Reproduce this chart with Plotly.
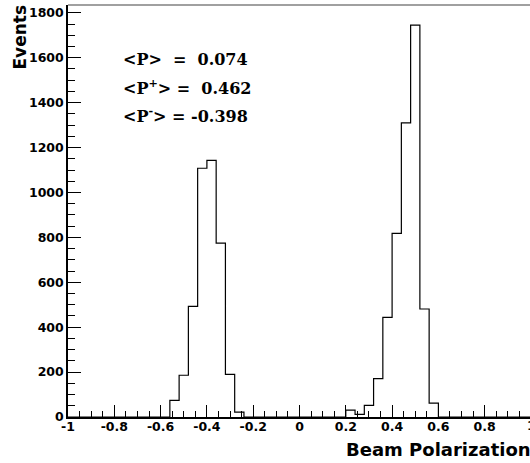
import numpy as np
import plotly.graph_objects as go

# Histogram definition: 50 bins on [-1, 1]
x_lo, x_hi, n_bins = -1.0, 1.0, 50
counts = [0] * n_bins
left_peak_start = 11
left_peak = [74, 186, 493, 1108, 1143, 774, 190, 22]
right_peak_start = 30
right_peak = [31, 12, 52, 171, 444, 818, 1310, 1745, 481, 62]
for i, v in enumerate(left_peak):
    counts[left_peak_start + i] = v
for i, v in enumerate(right_peak):
    counts[right_peak_start + i] = v

edges = np.linspace(x_lo, x_hi, n_bins + 1)
x_tick_vals = [-1, -0.8, -0.6, -0.4, -0.2, 0, 0.2, 0.4, 0.6, 0.8]
x_tick_text = ["-1", "-0.8", "-0.6", "-0.4", "-0.2", "0", "0.2", "0.4", "0.6", "0.8"]
y_tick_vals = [0, 200, 400, 600, 800, 1000, 1200, 1400, 1600, 1800]

stats_lines = [
    "&lt;P&gt;\u00a0\u00a0=\u00a0\u00a00.074",
    "&lt;P<sup>+</sup>&gt;\u00a0=\u00a0\u00a00.462",
    "&lt;P<sup>-</sup>&gt;\u00a0=\u00a0-0.398",
]

W, H = 530, 463
ML, MR, MT, MB = 68, 0, 5, 46
PW, PH = W - ML - MR, H - MT - MB
px_per_unit = 231.5
x_range = [x_lo, x_lo + PW / px_per_unit]
y_range = [0, 1835]

fig = go.Figure()
fig.add_trace(go.Scatter(
    x=edges,
    y=list(counts) + [counts[-1]],
    mode="lines",
    line=dict(shape="hv", color="black", width=1.2),
    hoverinfo="skip",
    showlegend=False,
))

tick_font = dict(family="DejaVu Sans", size=12.5, color="black", weight="bold")

fig.update_layout(
    width=W, height=H,
    margin=dict(l=ML, r=MR, t=MT, b=MB, pad=0),
    paper_bgcolor="white", plot_bgcolor="white",
    showlegend=False,
    xaxis=dict(
        range=x_range, showgrid=False, zeroline=False,
        showline=True, linecolor="black", linewidth=1.5,
        ticks="inside", ticklen=12, tickwidth=1, tickcolor="black",
        tickvals=x_tick_vals, ticktext=x_tick_text,
        tickfont=tick_font, ticklabelstandoff=-3,
        minor=dict(dtick=0.05, tick0=0, ticks="inside", ticklen=6, tickwidth=1, tickcolor="black"),
    ),
    yaxis=dict(
        range=y_range, showgrid=False, zeroline=False,
        showline=True, linecolor="black", linewidth=1.5,
        ticks="inside", ticklen=13, tickwidth=1, tickcolor="black",
        tickvals=y_tick_vals,
        tickfont=tick_font,
        minor=dict(dtick=50, tick0=0, ticks="inside", ticklen=7, tickwidth=1, tickcolor="black"),
    ),
    shapes=[dict(type="line", xref="paper", yref="paper", x0=0, x1=1, y0=1, y1=1,
                 line=dict(color="#808080", width=1.5))],
)

annotations = []
for k, line in enumerate(stats_lines):
    annotations.append(dict(
        xref="paper", yref="paper", x=(121 - ML) / PW,
        y=1 - ((71 + 28.5 * k) - MT) / PH,
        xanchor="left", yanchor="bottom",
        text=line, showarrow=False,
        font=dict(family="DejaVu Serif", size=16, color="black", weight="bold"),
    ))
annotations.append(dict(
    xref="paper", yref="paper", x=(533 - ML) / PW, y=-(462 - (H - MB)) / PH,
    xanchor="right", yanchor="bottom", text="Beam Polarization", showarrow=False,
    font=dict(family="DejaVu Sans", size=18, color="black", weight="bold"),
))
annotations.append(dict(
    xref="paper", yref="paper", x=-(ML - 19) / PW, y=1 + (MT - 3) / PH,
    xanchor="center", yanchor="top", text="Events", textangle=-90, showarrow=False,
    font=dict(family="DejaVu Sans", size=17, color="black", weight="bold"),
))
annotations.append(dict(
    xref="paper", yref="paper", x=(531 - ML) / PW, y=-(416 - (H - MB)) / PH,
    xanchor="center", yanchor="top", text="1", showarrow=False,
    font=tick_font,
))
fig.update_layout(annotations=annotations)

fig.write_html(
    "out.html",
    config={"displayModeBar": False},
    post_script="document.body.style.margin='0';document.body.style.overflow='hidden';",
)
